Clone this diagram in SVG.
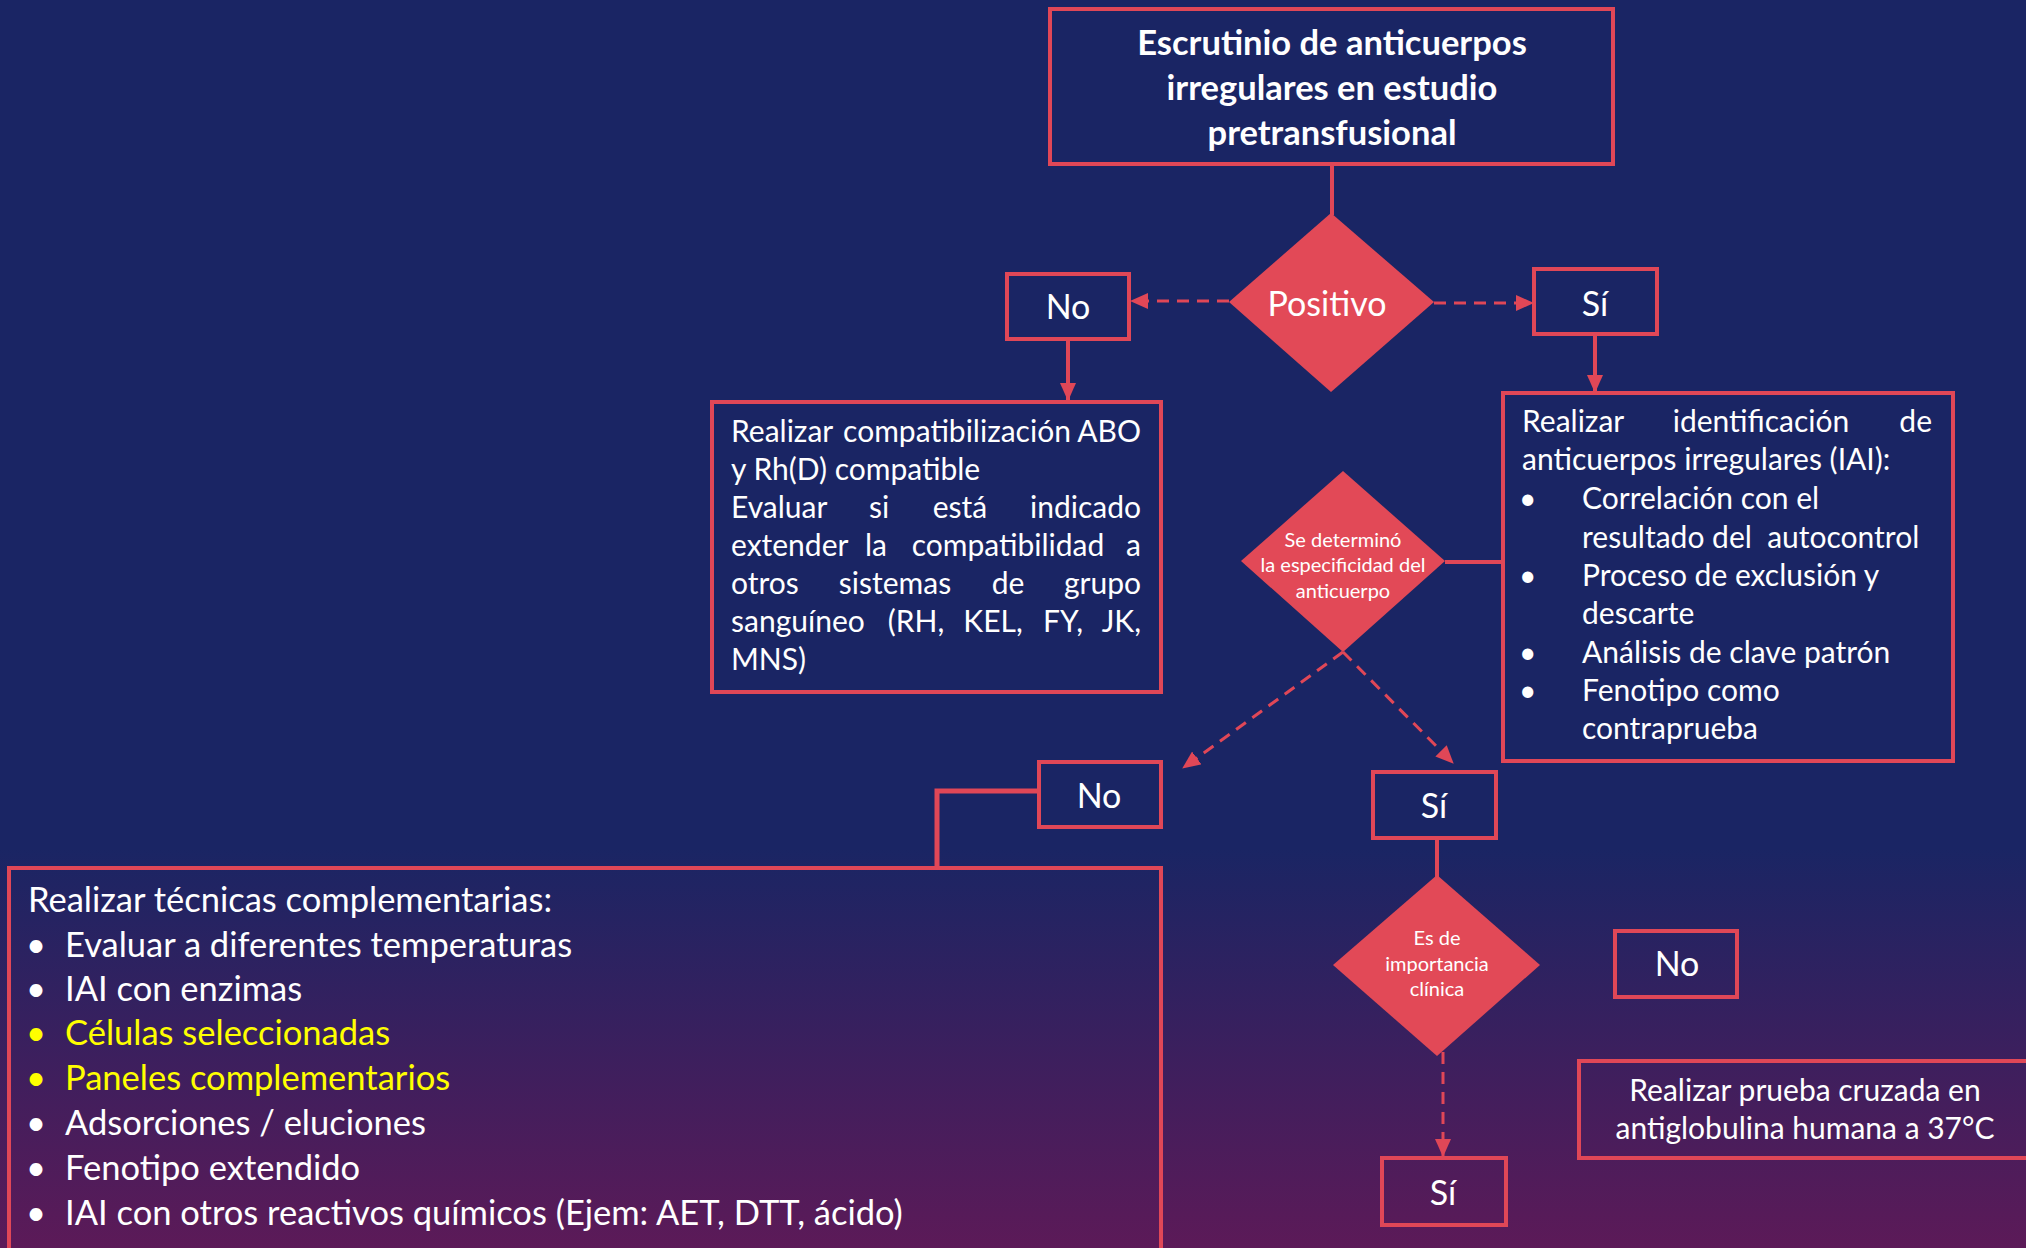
<svg xmlns="http://www.w3.org/2000/svg" width="2026" height="1248" viewBox="0 0 2026 1248">
<defs>
<linearGradient id="bg" x1="0" y1="0" x2="0" y2="1">
<stop offset="0" stop-color="#1a2564"/>
<stop offset="0.68" stop-color="#1a2564"/>
<stop offset="1" stop-color="#5c1a58"/>
</linearGradient>
<marker id="ah" viewBox="0 0 18 16" refX="17" refY="8" markerWidth="18" markerHeight="16" markerUnits="userSpaceOnUse" orient="auto">
<path d="M0,0 L18,8 L0,16 z" fill="#e04757"/>
</marker>
<style>
.box{fill:none;stroke:#e04757;stroke-width:4}
.dia{fill:#e24957;stroke:none}
.ln{fill:none;stroke:#e04757;stroke-width:4}
.dash{fill:none;stroke:#e04757;stroke-width:3;stroke-dasharray:12 8}
text{font-family:Lato,"Open Sans","Liberation Sans",sans-serif;fill:#ffffff}
.t{font-size:30px}
.tb{font-size:34.5px}
.lbl{font-size:34px;text-anchor:middle}
.sm{font-size:20px;text-anchor:middle}
.title{font-size:34.5px;font-weight:bold;text-anchor:middle}
.y{fill:#ffff00}
.e{text-anchor:end}
.m{text-anchor:middle}
</style>
</defs>
<rect x="0" y="0" width="2026" height="1248" fill="url(#bg)"/>

<g id="connectors">
<line class="ln" x1="1332" y1="164" x2="1332" y2="215"/>
<line class="dash" x1="1229" y1="301" x2="1131" y2="301" marker-end="url(#ah)"/>
<line class="dash" x1="1434" y1="303" x2="1533" y2="303" marker-end="url(#ah)"/>
<line class="ln" x1="1068" y1="340" x2="1068" y2="400" marker-end="url(#ah)"/>
<line class="ln" x1="1595" y1="335" x2="1595" y2="392" marker-end="url(#ah)"/>
<line class="ln" x1="1445" y1="562" x2="1503" y2="562"/>
<line class="dash" x1="1343" y1="652" x2="1183" y2="768" marker-end="url(#ah)"/>
<line class="dash" x1="1343" y1="652" x2="1453" y2="763" marker-end="url(#ah)"/>
<polyline class="ln" style="stroke-width:5" points="1038,791 937,791 937,867"/>
<line class="ln" x1="1437" y1="838" x2="1437" y2="877"/>
<line class="dash" x1="1443" y1="1052" x2="1443" y2="1156" marker-end="url(#ah)"/>
</g>

<g id="title">
<rect class="box" x="1050" y="9" width="563" height="155"/>
<text class="title" x="1332" y="55">Escrutinio de anticuerpos</text>
<text class="title" x="1332" y="100">irregulares en estudio</text>
<text class="title" x="1332" y="145">pretransfusional</text>
</g>

<g id="positivo">
<polygon class="dia" points="1331,213 1434,302 1331,392 1229,302"/>
<text class="lbl" x="1327" y="316">Positivo</text>
</g>

<g id="no1">
<rect class="box" x="1007" y="274" width="122" height="65"/>
<text class="lbl" x="1068" y="319">No</text>
</g>

<g id="si1">
<rect class="box" x="1534" y="269" width="123" height="65"/>
<text class="lbl" x="1595" y="316">Sí</text>
</g>

<g id="compat">
<rect class="box" x="712" y="402" width="449" height="290"/>
<text class="t" y="442"><tspan x="731">Realizar</tspan><tspan x="957" class="m">compatibilización</tspan><tspan x="1141" class="e">ABO</tspan></text>
<text class="t" x="731" y="480">y Rh(D) compatible</text>
<text class="t" y="518"><tspan x="731">Evaluar</tspan><tspan x="879" class="m">si</tspan><tspan x="960" class="m">está</tspan><tspan x="1141" class="e">indicado</tspan></text>
<text class="t" y="556"><tspan x="731">extender</tspan><tspan x="876" class="m">la</tspan><tspan x="1008" class="m">compatibilidad</tspan><tspan x="1141" class="e">a</tspan></text>
<text class="t" y="594"><tspan x="731">otros</tspan><tspan x="895" class="m">sistemas</tspan><tspan x="1008" class="m">de</tspan><tspan x="1141" class="e">grupo</tspan></text>
<text class="t" y="632"><tspan x="731">sanguíneo</tspan><tspan x="916" class="m">(RH,</tspan><tspan x="993" class="m">KEL,</tspan><tspan x="1063" class="m">FY,</tspan><tspan x="1141" class="e">JK,</tspan></text>
<text class="t" x="731" y="670">MNS)</text>
</g>

<g id="identificacion">
<rect class="box" x="1503" y="393" width="450" height="368"/>
<text class="t" y="432"><tspan x="1522">Realizar</tspan><tspan x="1761" class="m">identificación</tspan><tspan x="1932" class="e">de</tspan></text>
<text class="t" x="1522" y="470">anticuerpos irregulares (IAI):</text>
<text class="t" x="1519" y="509">•</text>
<text class="t" x="1582" y="509">Correlación con el</text>
<text class="t" x="1582" y="548" xml:space="preserve">resultado del  autocontrol</text>
<text class="t" x="1519" y="586">•</text>
<text class="t" x="1582" y="586">Proceso de exclusión y</text>
<text class="t" x="1582" y="624">descarte</text>
<text class="t" x="1519" y="663">•</text>
<text class="t" x="1582" y="663">Análisis de clave patrón</text>
<text class="t" x="1519" y="701">•</text>
<text class="t" x="1582" y="701">Fenotipo como</text>
<text class="t" x="1582" y="739">contraprueba</text>
</g>

<g id="especificidad">
<polygon class="dia" points="1343,471 1445,561 1343,652 1241,561"/>
<text class="sm" x="1343" y="547">Se determinó</text>
<text class="sm" x="1343" y="572">la especificidad del</text>
<text class="sm" x="1343" y="598">anticuerpo</text>
</g>

<g id="no2">
<rect class="box" x="1039" y="762" width="122" height="65"/>
<text class="lbl" x="1099" y="808">No</text>
</g>

<g id="tecnicas">
<rect class="box" x="9" y="868" width="1152" height="420"/>
<text class="tb" x="28" y="912">Realizar técnicas complementarias:</text>
<text class="tb" x="26" y="957">•</text><text class="tb" x="65" y="957">Evaluar a diferentes temperaturas</text>
<text class="tb" x="26" y="1001">•</text><text class="tb" x="65" y="1001">IAI con enzimas</text>
<text class="tb y" x="26" y="1045">•</text><text class="tb y" x="65" y="1045">Células seleccionadas</text>
<text class="tb y" x="26" y="1090">•</text><text class="tb y" x="65" y="1090">Paneles complementarios</text>
<text class="tb" x="26" y="1135">•</text><text class="tb" x="65" y="1135">Adsorciones / eluciones</text>
<text class="tb" x="26" y="1180">•</text><text class="tb" x="65" y="1180">Fenotipo extendido</text>
<text class="tb" x="26" y="1225">•</text><text class="tb" x="65" y="1225">IAI con otros reactivos químicos (Ejem: AET, DTT, ácido)</text>
</g>

<g id="si2">
<rect class="box" x="1373" y="772" width="123" height="66"/>
<text class="lbl" x="1434" y="818">Sí</text>
</g>

<g id="importancia">
<polygon class="dia" points="1437,875 1540,965 1437,1056 1333,965"/>
<text class="sm" x="1437" y="945">Es de</text>
<text class="sm" x="1437" y="971">importancia</text>
<text class="sm" x="1437" y="996">clínica</text>
</g>

<g id="no3">
<rect class="box" x="1615" y="931" width="122" height="66"/>
<text class="lbl" x="1677" y="976">No</text>
</g>

<g id="cruzada">
<rect class="box" x="1579" y="1061" width="500" height="97"/>
<text class="t m" x="1805" y="1101">Realizar prueba cruzada en</text>
<text class="t m" x="1805" y="1139">antiglobulina humana a 37°C</text>
</g>

<g id="si3">
<rect class="box" x="1382" y="1158" width="124" height="67"/>
<text class="lbl" x="1443" y="1205">Sí</text>
</g>
</svg>
